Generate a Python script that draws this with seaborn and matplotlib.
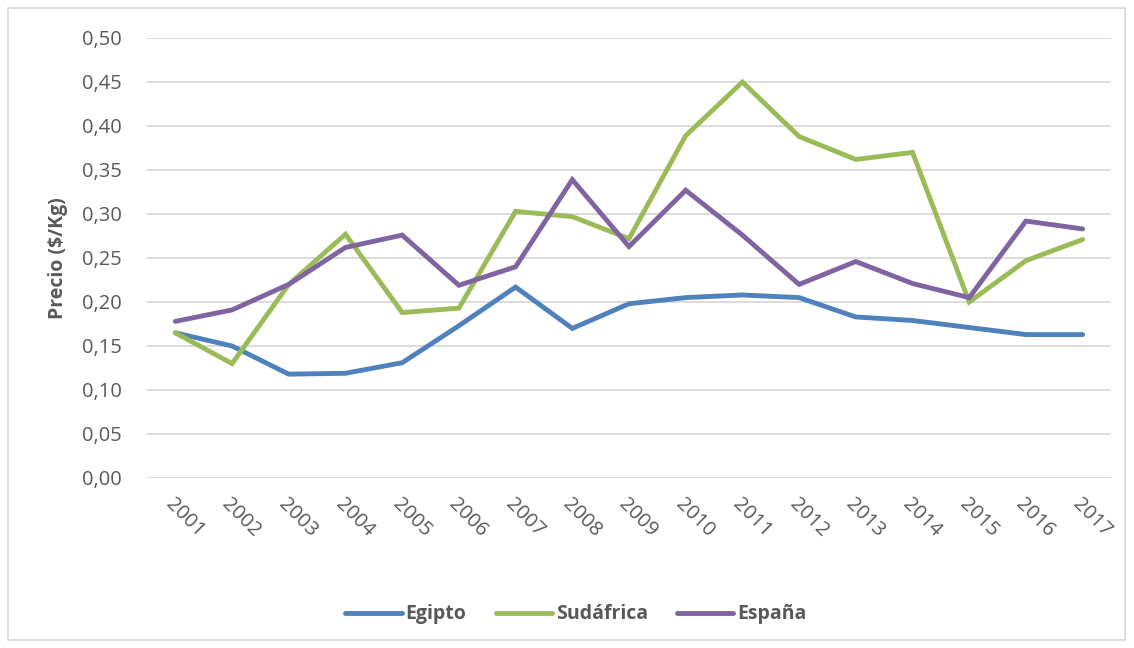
import seaborn as sns
import matplotlib.pyplot as plt
import pandas as pd
from matplotlib.patches import Rectangle

years = list(range(2001, 2018))
egipto = [0.165, 0.150, 0.118, 0.119, 0.131, 0.173, 0.217, 0.170, 0.198, 0.205,
          0.208, 0.205, 0.183, 0.179, 0.171, 0.163, 0.163]
sudafrica = [0.165, 0.130, 0.220, 0.277, 0.188, 0.193, 0.303, 0.297, 0.272, 0.389,
             0.450, 0.388, 0.362, 0.370, 0.200, 0.247, 0.271]
espana = [0.178, 0.191, 0.220, 0.262, 0.276, 0.219, 0.240, 0.339, 0.263, 0.327,
          0.276, 0.220, 0.246, 0.221, 0.205, 0.292, 0.283]

series = {'Egipto': egipto, 'Sudáfrica': sudafrica, 'España': espana}
rows = []
for name, vals in series.items():
    for i, v in enumerate(vals):
        rows.append({'idx': i, 'year': years[i], 'pais': name, 'precio': v})
df = pd.DataFrame(rows)

sns.set_style('white')
plt.rcParams['font.family'] = ['Open Sans', 'DejaVu Sans']
grey = '#595959'

fig = plt.figure(figsize=(11.34, 6.48), dpi=100)
ax = fig.add_axes([147/1134, 1-478/648, (1111-147)/1134, (478-38)/648])

pal = {'Egipto': '#4F81BD', 'Sudáfrica': '#9BBB59', 'España': '#8064A2'}
sns.lineplot(data=df, x='idx', y='precio', hue='pais', palette=pal, linewidth=3.5,
             ax=ax, solid_capstyle='round', solid_joinstyle='miter')

ax.set_xlim(-0.5, len(years) - 0.5)
ax.set_ylim(0, 0.5)
ax.set_yticks([i * 0.05 for i in range(11)])
ax.set_yticklabels([f'{i*0.05:.2f}'.replace('.', ',') for i in range(11)],
                   fontsize=14.5, color=grey)
ax.set_xticks(range(len(years)))
ax.set_xticklabels(years, rotation=-45, ha='left', rotation_mode='anchor',
                   fontsize=14.5, color=grey)
ax.tick_params(axis='x', pad=12, length=0)
ax.tick_params(axis='y', pad=18, length=0)
ax.grid(axis='y', color='#D9D9D9', linewidth=1.3)
ax.set_axisbelow(True)
for s in ax.spines.values():
    s.set_visible(False)
ax.set_xlabel('')
ax.set_ylabel('Precio ($/Kg)', fontsize=14, fontweight='bold', color=grey, labelpad=10)

ax.legend(loc='center', bbox_to_anchor=(0.445, -0.31), ncol=3, frameon=False,
          handlelength=2.9, columnspacing=1.5, handletextpad=0.2,
          prop={'weight': 'bold', 'size': 14}, labelcolor=grey)

fig.patches.append(Rectangle((8/1134, 8/648), 1117/1134, 632/648, transform=fig.transFigure,
                             fill=False, edgecolor='#D9D9D9', linewidth=1.2))

fig.savefig('out.png', dpi=100)
